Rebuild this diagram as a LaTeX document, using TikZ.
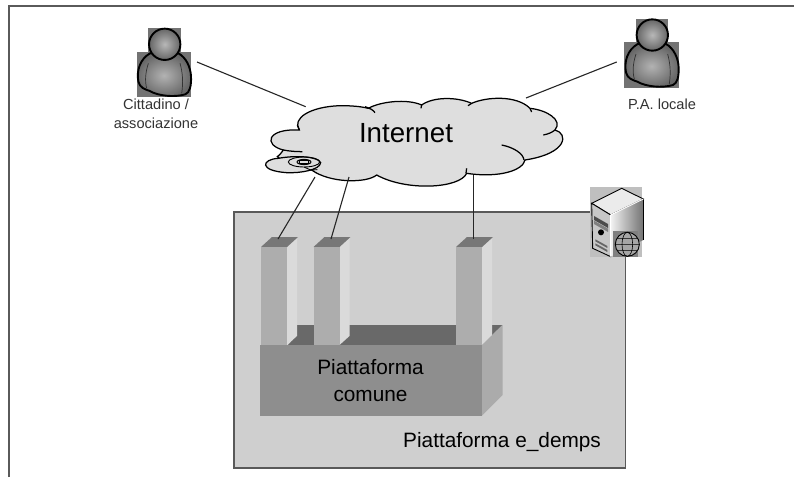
\documentclass[tikz,border=0pt]{standalone}
\usepackage{fontspec}
\setmainfont{Liberation Sans}
\usetikzlibrary{calc}
\definecolor{cloudfill}{HTML}{DEDEDE}
\definecolor{boxfill}{HTML}{CFCFCF}
\definecolor{frameline}{HTML}{5A5A5A}
\definecolor{pillarfront}{HTML}{ADADAD}
\definecolor{pillarside}{HTML}{DADADA}
\definecolor{pillartop}{HTML}{777777}
\definecolor{basefront}{HTML}{8E8E8E}
\definecolor{baseside}{HTML}{ABABAB}
\definecolor{baseback}{HTML}{696969}
\tikzset{
  x=1pt,y=-1pt,
  lbl/.style={inner sep=0pt,align=center,text=black},
  smalllbl/.style={lbl,text=black!80,font=\fontsize{14.6}{19}\selectfont},
  biglbl/.style={lbl,font=\fontsize{20.8}{26.5}\selectfont},
  wire/.style={draw=black!85,line width=1.1pt},
  cloudline/.style={draw=black,line width=1.25pt},
  pics/usericon/.style={code={
    \begin{scope}[x=.3333pt,y=-.3333pt]
      \fill[black!55] (-49,-48) rectangle (48,22);
      \fill[black!55] (-84,22) rectangle (80,158);
      \shadedraw[inner color=black!30,outer color=black!60,draw=black,line width=1.9pt]
        (-44,27) .. controls (-75,45) and (-85,80) .. (-79,112)
        .. controls (-75,130) and (-60,135) .. (-45,140)
        .. controls (-20,155) and (30,160) .. (62,150)
        .. controls (75,145) and (80,125) .. (79,97)
        .. controls (78,70) and (65,40) .. (41,27) -- cycle;
      \draw[black!80,line width=.7pt] (-49,57) .. controls (-58,85) and (-60,110) .. (-54,132);
      \draw[black!80,line width=.7pt] (46,57) .. controls (54,85) and (56,115) .. (51,147);
      \shadedraw[inner color=black!28,outer color=black!60,draw=black,line width=1.9pt]
        (0,0) circle (47);
    \end{scope}
  }},
  pics/pillar/.style={code={
    \fill[pillarside] (26,0) -- (36,-9) -- (36,89) -- (26,98) -- cycle;
    \fill[pillartop] (0,0) -- (26,0) -- (37,-10) -- (11,-10) -- cycle;
    \fill[pillarfront] (0,0) rectangle (26,98);
  }}
}
\begin{document}
\begin{tikzpicture}[x=1pt,y=-1pt]
\useasboundingbox (0,0) rectangle (794,477);
\fill[white] (0,0) rectangle (794,477);
% frame
\draw[frameline,line width=1.8pt] (8.7,477) -- (8.7,6.3) -- (794,6.3);
% platform box
\draw[fill=boxfill,draw=black!65,line width=1.1pt] (234,212) rectangle (625.5,468);
% base back
\fill[baseback] (288,345) -- (297,335) -- (297,325) -- (497,325) -- (482,345) -- cycle;
\fill[baseback] (492,325) -- (502.5,325) -- (492,335) -- cycle;
% pillars
\pic at (261,247) {pillar};
\pic at (313.5,247) {pillar};
\pic at (456,247) {pillar};
% base
\fill[baseside] (482,345) -- (502.5,325) -- (502.5,395) -- (482,415.5) -- cycle;
\fill[basefront] (260,345) rectangle (482,415.5);
% cloud
\begin{scope}[shift={(240,90)},x=.3333pt,y=-.3333pt]
  \draw[cloudline,fill=cloudfill]
    (178,120) .. controls (155,85) and (210,50) .. (300,47)
    .. controls (340,47) and (365,50) .. (385,55)
    .. controls (420,35) and (500,25) .. (545,45)
    .. controls (580,20) and (650,20) .. (695,40)
    .. controls (740,20) and (830,15) .. (870,55)
    .. controls (920,60) and (970,90) .. (945,120)
    .. controls (985,130) and (985,190) .. (855,210)
    .. controls (850,240) and (780,265) .. (680,250)
    .. controls (660,295) and (500,305) .. (410,255)
    .. controls (380,280) and (270,280) .. (215,240)
    .. controls (160,235) and (130,215) .. (112,200)
    .. controls (125,190) and (125,185) .. (130,180)
    .. controls (70,165) and (80,115) .. (178,120) -- cycle;
  \draw[cloudline] (130,180) .. controls (150,184) and (170,185) .. (187,185);
  \draw[cloudline] (375,50) .. controls (390,55) and (400,60) .. (405,68);
  \draw[cloudline] (785,165) .. controls (820,172) and (850,190) .. (852,210);
  \draw[cloudline] (910,135) .. controls (925,132) and (935,128) .. (945,120);
  \draw[cloudline] (870,55) -- (875,66);
  \draw[cloudline] (680,235) -- (678,250);
  \draw[cloudline] (545,45) -- (543,55);
  \draw[cloudline] (695,40) -- (684,47);
  \draw[cloudline] (178,120) -- (172,105);
  \draw[cloudline,fill=cloudfill] (115,205) .. controls (65,208) and (55,242) .. (140,248)
    .. controls (180,250) and (240,240) .. (242,218)
    .. controls (235,200) and (170,195) .. (115,205) -- cycle;
  \draw[cloudline,line width=.9pt] (192,216) ellipse (47 and 15);
  \draw[cloudline,line width=.9pt,fill=black!30] (192,216) ellipse (21 and 8);
  \draw[cloudline,line width=.9pt,fill=cloudfill] (178,211) rectangle (206,221);
  \draw[cloudline,line width=.9pt] (192,231) -- (212,240) -- (232,239);
\end{scope}
% users
\pic at (164.7,44.3) {usericon};
\pic at (652.3,35) {usericon};
% server
\begin{scope}[shift={(570,0)},x=.3333pt,y=-.3333pt]
  \fill[black!25] (60,562) rectangle (215,770);
  \draw[black,line width=.9pt,fill=black!8] (65,610) -- (155,565) -- (220,597) -- (122,645) -- cycle;
  \draw[black,line width=.9pt,fill=black!22] (65,610) -- (122,645) -- (122,770) -- (68,745) -- cycle;
  \shade[left color=black!5,right color=black!55] (122,645) -- (220,597) -- (220,720) -- (122,770) -- cycle;
  \draw[black,line width=1.2pt] (220,597) -- (220,720);
  \draw[white,line width=.9pt] (122,645) -- (122,770) (122,645) -- (220,597);
  \fill[black!70] (72,648) -- (114,672) -- (114,684) -- (72,660) -- cycle;
  \fill[black!50] (72,662) -- (114,686) -- (114,696) -- (72,672) -- cycle;
  \fill[black] (93,697) circle (9);
  \fill[black!60] (76,718) -- (112,738) -- (112,744) -- (76,724) -- cycle;
  \fill[black!60] (76,730) -- (112,750) -- (112,756) -- (76,736) -- cycle;
  \fill[black!50] (128,693) rectangle (205,770);
  \draw[black,line width=.9pt,fill=black!35] (172,733) circle (36);
  \draw[black,line width=.6pt] (172,733) ellipse (16 and 36) (136,733) -- (208,733)
     (142,715) -- (202,715) (142,751) -- (202,751);
\end{scope}
% labels
\node[lbl,font=\fontsize{27.7}{32}\selectfont] (internet) at (406,133) {Internet};
\node[smalllbl] (cittadino) at (156,113.5) {Cittadino /\\associazione};
\node[smalllbl] (pa) at (662,104) {P.A. locale};
\node[biglbl] (comune) at (370.5,380.5) {Piattaforma\\comune};
\node[biglbl,anchor=west] (edemps) at (403,442.5) {Piattaforma e\_demps};
% connector ends
\coordinate (c1) at (197,62);
\coordinate (c2) at (305.7,106.7);
\coordinate (p1) at (616.7,62);
\coordinate (p2) at (526,98);
\coordinate (a1) at (315,177);
\coordinate (a2) at (278,239);
\coordinate (b1) at (349,177);
\coordinate (b2) at (331,239);
\coordinate (d1) at (473.5,175);
\coordinate (d2) at (473.5,239);
\draw[wire] (c1) -- (c2);
\draw[wire] (p1) -- (p2);
\draw[wire] (a1) -- (a2);
\draw[wire] (b1) -- (b2);
\draw[wire] (d1) -- (d2);
\end{tikzpicture}
\end{document}
